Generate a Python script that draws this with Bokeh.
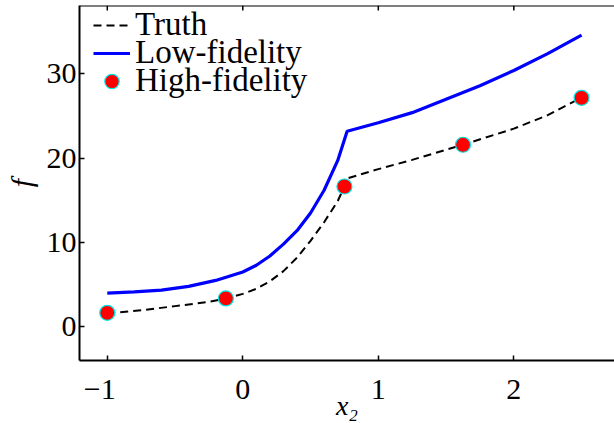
from bokeh.plotting import figure
from bokeh.models import FixedTicker, Legend, LegendItem, Range1d, Span
from bokeh.embed import file_html
from bokeh.resources import INLINE

# ---- data ----
truth_x = [-1.0, -0.75, -0.5, -0.25, -0.125, 0.0, 0.1, 0.2, 0.3, 0.4, 0.5, 0.6, 0.7, 0.75, 0.77,
           1.0, 1.25, 1.625, 2.0, 2.25, 2.5]
truth_y = [1.6, 1.95, 2.45, 2.95, 3.36, 3.9, 4.5, 5.4, 6.6, 8.2, 10.2, 12.4, 14.9, 16.64, 17.6,
           18.7, 19.8, 21.6, 23.5, 25.1, 27.2]

low_x = [-1.0, -0.8, -0.6, -0.4, -0.2, 0.0, 0.1, 0.2, 0.3, 0.4, 0.5, 0.6, 0.7, 0.77,
         1.0, 1.25, 1.5, 1.75, 2.0, 2.25, 2.5]
low_y = [4.0, 4.15, 4.35, 4.8, 5.5, 6.5, 7.3, 8.4, 9.8, 11.4, 13.5, 16.2, 19.7, 23.2,
         24.2, 25.4, 27.0, 28.6, 30.4, 32.4, 34.6]

high_x = [-1.0, -0.125, 0.75, 1.625, 2.5]
high_y = [1.66, 3.36, 16.64, 21.59, 27.16]

x_ticks = [-1, 0, 1, 2]
x_tick_labels = ["\u22121\u2002", "0", "1", "2"]
y_ticks = [0, 10, 20, 30]
y_tick_labels = ["0", "10", "20", "30"]

series_names = ["Truth", "Low-fidelity", "High-fidelity"]

FONT = "Liberation Serif"
X0, X1 = -1.205, 2.743
Y0, Y1 = -4.0, 38.11
FRAME_H = 355

p = figure(frame_width=535, frame_height=FRAME_H,
           x_range=Range1d(X0, X1), y_range=Range1d(Y0, Y1),
           output_backend="svg", toolbar_location=None,
           min_border_left=79, min_border_right=0, min_border_top=5, min_border_bottom=0,
           x_axis_label="x\u2082", y_axis_label="f")
p.outline_line_color = None
p.grid.visible = False
p.background_fill_color = "white"
p.border_fill_color = "white"

def style_axis(ax):
    ax.axis_line_width = 2
    ax.axis_line_color = "black"
    ax.major_tick_in = 5
    ax.major_tick_out = 0
    ax.major_tick_line_width = 1.5
    ax.minor_tick_line_color = None
    ax.major_label_text_font = FONT
    ax.major_label_text_font_size = "30px"
    ax.major_label_text_color = "black"
    ax.axis_label_text_font = FONT
    ax.axis_label_text_font_size = "28px"
    ax.axis_label_text_font_style = "italic"
    ax.axis_label_text_color = "black"

xa = p.xaxis[0]
style_axis(xa)
xa.ticker = FixedTicker(ticks=x_ticks)
xa.major_label_overrides = {t: l for t, l in zip(x_ticks, x_tick_labels)}
xa.major_label_standoff = 11
xa.axis_label_standoff = -18

ya = p.yaxis[0]
style_axis(ya)
ya.axis_label_text_font_size = "30px"
ya.ticker = FixedTicker(ticks=y_ticks)
ya.major_label_overrides = {t: l for t, l in zip(y_ticks, y_tick_labels)}
ya.major_label_standoff = 3
ya.axis_label_standoff = 6

# top edge of the axes box with inward ticks
p.add_layout(Span(location=Y1, dimension="width", line_color="black", line_width=2))
tick_len = 5 * (Y1 - Y0) / FRAME_H
p.segment(x0=x_ticks, y0=[Y1] * len(x_ticks), x1=x_ticks, y1=[Y1 - tick_len] * len(x_ticks),
          line_color="black", line_width=1.5)

r_truth = p.line(truth_x, truth_y, line_color="black", line_width=2, line_dash="8 5")
r_low = p.line(low_x, low_y, line_color="#0000ff", line_width=3.2)
r_high = p.scatter(high_x, high_y, marker="circle", size=15,
                   fill_color="#ff0000", line_color="#00e5e5", line_width=1.2)

for name, rend, vy in zip(series_names, [r_truth, r_low, r_high], [317, 289, 261]):
    lg = Legend(items=[LegendItem(label=name, renderers=[rend])],
                location=(14, vy), padding=0, margin=0, spacing=0,
                glyph_width=37, glyph_height=36, label_standoff=5,
                label_text_font=FONT, label_text_font_size="33px",
                label_text_color="black",
                border_line_color=None, background_fill_alpha=0)
    p.add_layout(lg)

open("out.html", "w").write(file_html(p, INLINE))
